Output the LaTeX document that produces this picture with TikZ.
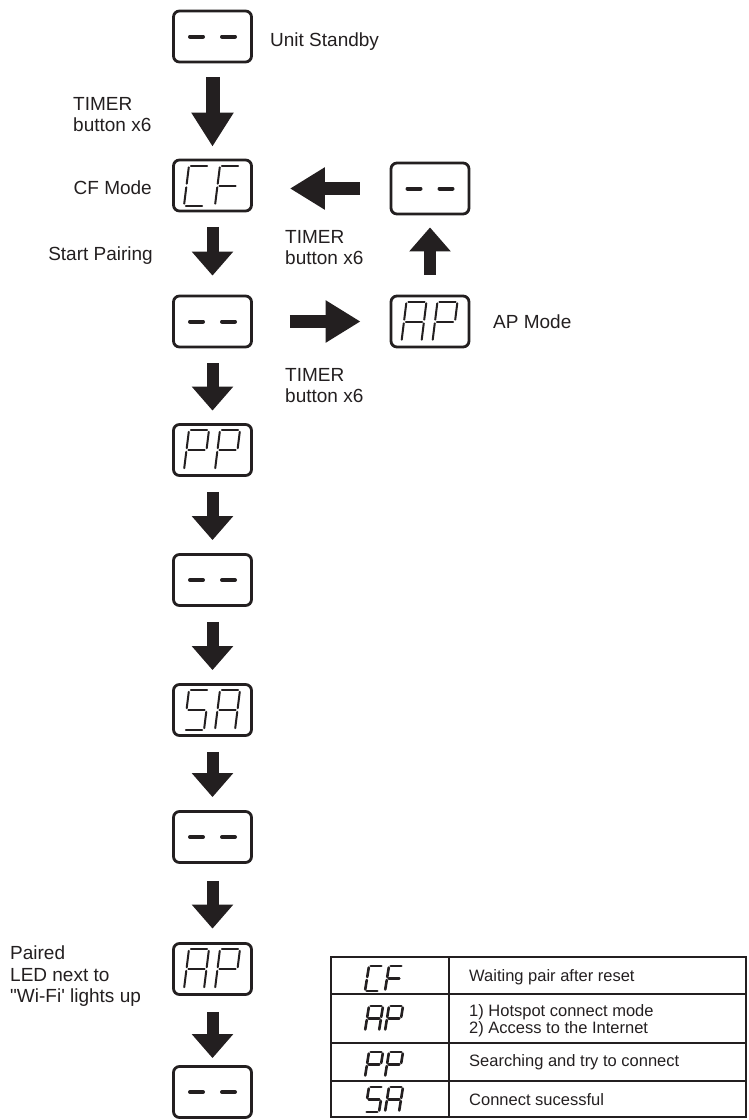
\documentclass[tikz,border=0pt]{standalone}
\usepackage{fontspec}
\setmainfont{Liberation Sans}[Ligatures=TeXOff]
\usetikzlibrary{arrows.meta}
\definecolor{ink}{HTML}{231F20}
\newcommand\segGap{0.09}
\newcommand\SGa{\draw[segsty] (\segGap,2) -- ({1-\segGap},2);}
\newcommand\SGb{\draw[segsty] (1,{2-\segGap}) -- (1,{1+\segGap});}
\newcommand\SGc{\draw[segsty] (1,{1-\segGap}) -- (1,\segGap);}
\newcommand\SGd{\draw[segsty] (\segGap,0) -- ({1-\segGap},0);}
\newcommand\SGe{\draw[segsty] (0,\segGap) -- (0,{1-\segGap});}
\newcommand\SGf{\draw[segsty] (0,{1+\segGap}) -- (0,{2-\segGap});}
\newcommand\SGg{\draw[segsty] (\segGap,1) -- ({1-\segGap},1);}
% #1 x, #2 y (bottom-left), #3 width, #4 slant per half-height, #5 half-height, #6 segments
\newcommand\segchar[6]{%
  \begin{scope}[shift={(#1,#2)}, x={(#3pt,0pt)}, y={(#4pt,#5pt)}]
    \foreach \s in {#6}{\csname SG\s\endcsname}
  \end{scope}}
\newcommand\disp[3]{%
  \begin{scope}[shift={(#1.center)}]
    \segchar{-28.5}{20}{20}{2.5}{20}{#2}
    \segchar{2.5}{20}{20}{2.5}{20}{#3}
  \end{scope}}
\newcommand\dashes[1]{%
  \draw[dashbar] ([xshift=-22.5pt]#1.center) -- ([xshift=-9.5pt]#1.center)
                 ([xshift=9.5pt]#1.center) -- ([xshift=22.5pt]#1.center);}
\tikzset{
  dispbox/.style={draw=ink, line width=2.8pt, rounded corners=6pt,
    minimum width=78pt, minimum height=51pt, inner sep=0pt},
  lbl/.style={font=\fontsize{19}{21}\selectfont, text=ink, inner sep=0pt},
  tlbl/.style={font=\fontsize{16.5}{17.5}\selectfont, text=ink, inner sep=0pt},
  blk/.style={color=ink, line width=12pt, -{Triangle[width=40pt,length=24pt]}},
  segsty/.style={color=ink, line width=2pt, line cap=round},
  dashbar/.style={color=ink, line width=4pt, line cap=round},
  tline/.style={draw=ink, line width=1.3pt},
}
\begin{document}
\begin{tikzpicture}[x=1pt,y=-1pt]
\useasboundingbox (0,0) rectangle (748,1120);
% display boxes, main column
\node[dispbox] (s0)  at (212.5,36.5) {};
\node[dispbox] (cf)  at (212.5,185.5) {};
\node[dispbox] (s1)  at (212.5,321.5) {};
\node[dispbox] (pp)  at (212.5,450) {};
\node[dispbox] (s2)  at (212.5,580) {};
\node[dispbox] (sa)  at (212.5,710) {};
\node[dispbox] (s3)  at (212.5,837) {};
\node[dispbox] (ap2) at (212.5,969) {};
\node[dispbox] (s4)  at (212.5,1092) {};
% right column
\node[dispbox] (r1)  at (430,188.5) {};
\node[dispbox] (ap1) at (430,321.5) {};
% display contents
\dashes{s0}\dashes{s1}\dashes{s2}\dashes{s3}\dashes{s4}\dashes{r1}
\disp{cf}{a,d,e,f}{a,e,f,g}
\disp{ap1}{a,b,c,e,f,g}{a,b,e,f,g}
\disp{pp}{a,b,e,f,g}{a,b,e,f,g}
\disp{sa}{a,c,d,f,g}{a,b,c,e,f,g}
\disp{ap2}{a,b,c,e,f,g}{a,b,e,f,g}
% arrows
\draw[blk, line width=14pt, -{Triangle[width=40pt,length=34pt]}, shorten <=14pt, shorten >=12pt] (s0) -- (cf);
\draw[blk, shorten <=14.5pt, shorten >=19pt] (cf) -- (s1);
\draw[blk, shorten <=15pt, shorten >=12.5pt] (s1) -- (pp);
\draw[blk, shorten <=15pt, shorten >=13pt] (pp) -- (s2);
\draw[blk, shorten <=15pt, shorten >=13pt] (s2) -- (sa);
\draw[blk, shorten <=15pt, shorten >=13pt] (sa) -- (s3);
\draw[blk, shorten <=17pt, shorten >=13.5pt] (s3) -- (ap2);
\draw[blk, shorten <=16pt, shorten >=7pt] (ap2) -- (s4);
\draw[blk, line width=13pt, -{Triangle[width=40pt,length=35pt]}, shorten <=30pt, shorten >=37pt] (r1.west) -- (r1.west -| cf.east);
\draw[blk, line width=13pt, -{Triangle[width=40pt,length=35pt]}, shorten <=37pt, shorten >=29pt] (s1.east) -- (ap1.west);
\draw[blk, shorten <=20pt, shorten >=12pt] (ap1.north) -- (r1.south);
% labels
\node[lbl, anchor=base west] (lstandby) at (270,46) {Unit Standby};
\node[lbl, anchor=north west, align=left] (ltimer1) at (73,97) {TIMER\\button x6};
\node[lbl, anchor=base east] (lcf) at (152,194) {CF Mode};
\node[lbl, anchor=base east] (lstart) at (153,260) {Start Pairing};
\node[lbl, anchor=north west, align=left] (ltimer2) at (285,230) {TIMER\\button x6};
\node[lbl, anchor=north west, align=left] (ltimer3) at (285,368) {TIMER\\button x6};
\node[lbl, anchor=base west] (lap) at (493,328) {AP Mode};
\node[lbl, anchor=north west, align=left, font=\fontsize{19}{21.5}\selectfont] (lpaired) at (10,946) {Paired\\LED next to\\"Wi-Fi' lights up};
% legend table
\draw[tline] (331,957) rectangle (746,1117);
\draw[tline] (449,957) -- (449,1117);
\draw[tline] (331,994) -- (746,994);
\draw[tline] (331,1043) -- (746,1043);
\draw[tline] (331,1081) -- (746,1081);
\begin{scope}[segsty/.style={color=ink, line width=2.6pt, line cap=round}]
\renewcommand\segGap{0.12}
\segchar{365}{991}{14}{2}{12.5}{a,d,e,f}
\segchar{385}{991}{14}{2}{12.5}{a,e,f,g}
\segchar{365}{1031}{14}{2}{12.5}{a,b,c,e,f,g}
\segchar{385}{1031}{14}{2}{12.5}{a,b,e,f,g}
\segchar{365}{1077}{14}{2}{12.5}{a,b,e,f,g}
\segchar{385}{1077}{14}{2}{12.5}{a,b,e,f,g}
\segchar{365}{1112}{14}{2}{12.5}{a,c,d,f,g}
\segchar{385}{1112}{14}{2}{12.5}{a,b,c,e,f,g}
\end{scope}
\node[tlbl, anchor=base west] (t1) at (469,981.5) {Waiting pair after reset};
\node[tlbl, anchor=north west, align=left] (t2) at (469,1004) {1) Hotspot connect mode\\2) Access to the Internet};
\node[tlbl, anchor=base west] (t3) at (469,1066.5) {Searching and try to connect};
\node[tlbl, anchor=base west] (t4) at (469,1105) {Connect sucessful};
\end{tikzpicture}
\end{document}
